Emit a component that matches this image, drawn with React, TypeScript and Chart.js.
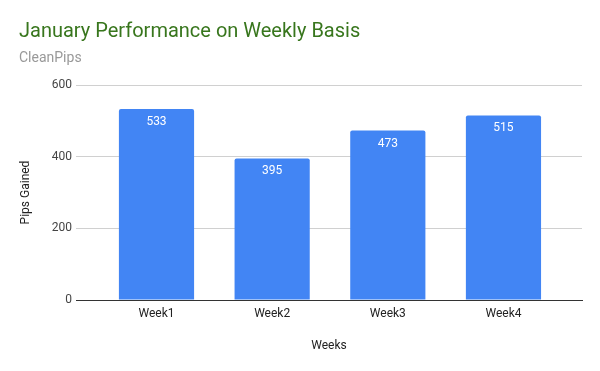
import React, { useEffect, useRef } from "react";
import { Chart, registerables } from "chart.js";

Chart.register(...registerables);

const categories = ["Week1", "Week2", "Week3", "Week4"];
const pipsGained = [533, 395, 473, 515];
const yTicks = [0, 200, 400, 600];

const FONT = "Roboto, Arial, sans-serif";

const barLabels = {
  id: "barLabels",
  afterDatasetsDraw(chart: any) {
    const { ctx } = chart;
    const meta = chart.getDatasetMeta(0);
    ctx.save();
    ctx.font = `12px ${FONT}`;
    ctx.fillStyle = "#ffffff";
    ctx.textAlign = "center";
    ctx.textBaseline = "middle";
    meta.data.forEach((bar: any, i: number) => {
      ctx.fillText(String(pipsGained[i]), bar.x, bar.y + 13);
    });
    ctx.restore();
  },
};

export default function App() {
  const ref = useRef<HTMLCanvasElement | null>(null);

  useEffect(() => {
    if (!ref.current) return;
    const chart = new Chart(ref.current, {
      type: "bar",
      data: {
        datasets: [
          {
            label: "Pips Gained",
            data: pipsGained.map((v, i) => ({ x: i, y: v })),
            backgroundColor: "#4285F4",
            borderRadius: { topLeft: 2, topRight: 2, bottomLeft: 0, bottomRight: 0 },
            borderSkipped: "bottom",
            barPercentage: 0.65,
            categoryPercentage: 1,
          },
        ],
      },
      options: {
        animation: false,
        responsive: false,
        layout: { padding: { left: 19, right: 18, top: 0, bottom: 0 } },
        plugins: {
          legend: { display: false },
          tooltip: { enabled: false },
          title: {
            display: true,
            text: "January Performance on Weekly Basis",
            align: "start",
            color: "#38761d",
            font: { family: FONT, size: 20, weight: "normal" },
            padding: { top: 20, bottom: 5.6 },
          },
          subtitle: {
            display: true,
            text: "CleanPips",
            align: "start",
            color: "#999999",
            font: { family: FONT, size: 14, weight: "normal" },
            padding: { top: 0, bottom: 18.6 },
          },
        },
        scales: {
          x: {
            type: "linear",
            offset: false,
            min: -0.696,
            max: 3.679,
            grid: { display: false, drawTicks: false, offset: false },
            border: { display: true, color: "#333333", width: 1 },
            ticks: {
              stepSize: 1,
              includeBounds: false,
              autoSkip: false,
              padding: 7,
              color: "#222222",
              font: { family: FONT, size: 12 },
              callback: (v: any) => categories[v] ?? "",
            },
            title: {
              display: true,
              text: "Weeks",
              color: "#222222",
              font: { family: FONT, size: 12 },
              padding: { top: 10.4, bottom: 17.8 },
            },
          },
          y: {
            min: yTicks[0],
            max: yTicks[yTicks.length - 1],
            afterBuildTicks: (scale: any) => {
              scale.ticks = yTicks.map((v) => ({ value: v }));
            },
            afterFit: (scale: any) => {
              scale.width = 57;
            },
            grid: {
              drawTicks: false,
              color: (c: any) => (c.tick && c.tick.value === 0 ? "#333333" : "#d0d0d0"),
            },
            border: { display: false },
            ticks: {
              padding: 4,
              color: "#444444",
              font: { family: FONT, size: 12 },
            },
            title: {
              display: true,
              text: "Pips Gained",
              color: "#222222",
              font: { family: FONT, size: 12 },
              padding: { top: 0, bottom: 4 },
            },
          },
        },
      } as any,
      plugins: [barLabels],
    });
    return () => chart.destroy();
  }, []);

  return (
    <div style={{ position: "absolute", left: 0, top: 0, width: 600, height: 371, background: "#fff" }}>
      <canvas ref={ref} width={600} height={371} style={{ display: "block" }} />
    </div>
  );
}
